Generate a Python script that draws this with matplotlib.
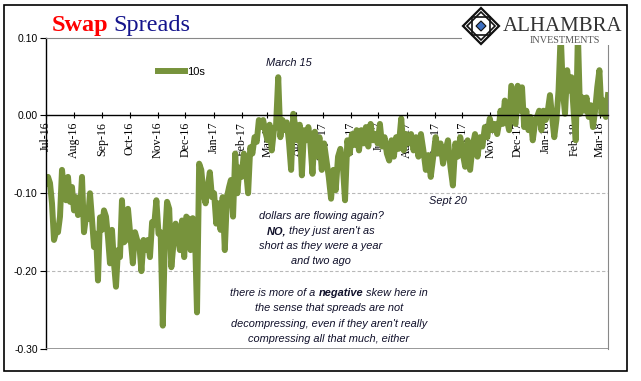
import numpy as np
import pandas as pd
import matplotlib
matplotlib.use('Agg')
import matplotlib.pyplot as plt
import matplotlib.dates as mdates
from matplotlib.patches import Rectangle, Polygon
from matplotlib.ticker import FormatStrFormatter

# --- data: 10y swap spread in 6 stretches ---
seg_dates = [
    ('2016-07-01', '2016-09-29'),
    ('2016-10-02', '2017-01-18'),
    ('2017-01-20', '2017-04-15'),
    ('2017-04-17', '2017-07-23'),
    ('2017-07-26', '2017-11-11'),
    ('2017-11-12', '2018-03-10'),
]
seg_a = [-0.087, -0.079, -0.087, -0.113, -0.160, -0.150, -0.150, -0.130, -0.070, -0.096,
         -0.109, -0.079, -0.111, -0.092, -0.122, -0.105, -0.128, -0.125, -0.079, -0.150,
         -0.130, -0.133, -0.100, -0.133, -0.169, -0.152, -0.212, -0.131, -0.147, -0.122,
         -0.130, -0.156, -0.190, -0.147, -0.190, -0.220, -0.173, -0.182, -0.109, -0.163,
         -0.160, -0.120]
seg_b = [-0.160, -0.190, -0.150, -0.160, -0.165, -0.200, -0.160, -0.173, -0.160, -0.182,
         -0.137, -0.140, -0.109, -0.152, -0.150, -0.270, -0.160, -0.111, -0.120, -0.195,
         -0.165, -0.139, -0.152, -0.173, -0.135, -0.182, -0.130, -0.133, -0.173, -0.132,
         -0.147, -0.253, -0.062, -0.070, -0.100, -0.113, -0.092, -0.073, -0.105, -0.100,
         -0.139, -0.113, -0.147, -0.105, -0.173, -0.105, -0.092]
seg_c = [-0.083, -0.130, -0.049, -0.100, -0.067, -0.079, -0.049, -0.070, -0.100, -0.041,
         -0.049, -0.028, -0.034, -0.006, -0.015, -0.006, -0.021, -0.032, -0.012, -0.045,
         -0.019, -0.013, 0.049, -0.028, -0.006, -0.019, -0.009, -0.034, -0.070, 0.002,
         -0.015, -0.032, -0.012, -0.077, -0.019, -0.032, -0.015]
seg_d = [-0.032, -0.075, -0.021, -0.053, -0.028, -0.070, -0.036, -0.058, -0.079, -0.107,
         -0.070, -0.096, -0.053, -0.043, -0.062, -0.109, -0.032, -0.049, -0.024, -0.038,
         -0.019, -0.045, -0.019, -0.036, -0.015, -0.040, -0.011, -0.032, -0.024, -0.036,
         -0.011, -0.040, -0.028, -0.049, -0.058, -0.032, -0.053, -0.028, -0.043]
seg_e = [-0.004, -0.045, -0.024, -0.036, -0.024, -0.045, -0.028, -0.053, -0.024, -0.045,
         -0.070, -0.051, -0.079, -0.053, -0.028, -0.049, -0.036, -0.062, -0.045, -0.032,
         -0.066, -0.090, -0.036, -0.053, -0.028, -0.049, -0.066, -0.032, -0.070, -0.040,
         -0.024, -0.053, -0.028, -0.040, -0.015, -0.028, -0.004, -0.019, -0.011, -0.024,
         -0.006]
seg_f = [0.006, -0.011, 0.019, -0.006, -0.019, 0.038, 0.013, -0.011, 0.038, 0.006,
         0.036, -0.015, 0.006, -0.019, -0.002, -0.032, -0.011, -0.002, 0.006, -0.019,
         0.006, -0.006, 0.006, 0.026, -0.002, -0.028, -0.006, 0.032, 0.105, 0.032,
         0.002, 0.058, 0.032, 0.049, 0.006, -0.032, 0.105, 0.002, 0.023, 0.006,
         0.023, -0.002, 0.013, -0.015, 0.006, 0.036, 0.058, 0.002, 0.019, -0.002,
         0.026]
segments = [seg_a, seg_b, seg_c, seg_d, seg_e, seg_f]

series_label = '10s'
y_ticks = [-0.30, -0.20, -0.10, 0.00, 0.10]

dates = []
values = []
for (d0, d1), seg in zip(seg_dates, segments):
    dates.extend(pd.date_range(d0, d1, periods=len(seg)))
    values.extend(seg)
s = pd.Series(values, index=pd.DatetimeIndex(dates))

# --- figure, laid out in pixels ---
W, H = 641, 381
def fx(x):
    return x / W
def fy(y):
    return 1 - y / H

green = '#77933C'
txt_col = '#10102a'

fig = plt.figure(figsize=(W / 100, H / 100), dpi=100)
ax = fig.add_axes([fx(46), fy(349), fx(608) - fx(46), fy(37.5) - fy(349)])

ax.plot(s.index, s.values, color=green, lw=4.3, label=series_label, zorder=2)

ax.set_xlim(pd.Timestamp('2016-07-01'), pd.Timestamp('2018-03-10'))
ax.set_ylim(-0.30, 0.10)
ax.set_yticks(y_ticks)
ax.yaxis.set_major_formatter(FormatStrFormatter('%.2f'))
for yv in [-0.10, -0.20]:
    ax.axhline(yv, color='#b8b8b8', lw=0.8, ls=(0, (3, 2)), zorder=1)
ax.axhline(-0.30, color='#888888', lw=1.2, zorder=3)

ax.spines['bottom'].set_position(('data', 0))
ax.spines['bottom'].set_color('black')
ax.spines['bottom'].set_linewidth(1.0)
ax.spines['left'].set_color('black')
ax.spines['left'].set_linewidth(1.0)
ax.spines['top'].set_color('#888888')
ax.spines['right'].set_color('#888888')

ax.xaxis.set_major_locator(mdates.MonthLocator())
ax.xaxis.set_major_formatter(mdates.DateFormatter('%b-%y'))
ax.tick_params(axis='x', direction='inout', length=5, width=0.8, pad=2)
for lab in ax.get_xticklabels():
    lab.set_rotation(90)
    lab.set_fontfamily('Liberation Serif')
    lab.set_fontsize(8.6)
    lab.set_va('top')
    lab.set_ha('center')
ax.tick_params(axis='y', direction='out', length=4, width=0.8, pad=2)
for lab in ax.get_yticklabels():
    lab.set_fontfamily('Liberation Sans')
    lab.set_fontsize(7.5)

leg = ax.legend(loc='center left', bbox_to_anchor=(fx(158), fy(72)),
                bbox_transform=fig.transFigure, frameon=False, borderpad=0,
                borderaxespad=0, handlelength=2.4, handletextpad=0.2,
                prop={'family': 'Liberation Sans', 'size': 8})

renderer = fig.canvas.get_renderer()

# title
t1 = fig.text(fx(52), fy(31), 'Swap', color='#ff0000', fontsize=17.5,
              family='Liberation Serif', weight='bold', va='baseline')
w1 = t1.get_window_extent(renderer).width
fig.text(fx(52 + w1 + 5), fy(31), 'Spreads', color='#14148c', fontsize=17.5,
         family='Liberation Serif', va='baseline')

# logo area (white box hides the chart underneath, as in the source)
fig.add_artist(Rectangle((fx(462), fy(45)), fx(627) - fx(462), fy(6) - fy(45),
                         transform=fig.transFigure, facecolor='white',
                         edgecolor='none', zorder=5))
cx, cy, r = 481, 26, 18
def diamond(rr, **kw):
    pts = [(fx(cx), fy(cy - rr)), (fx(cx + rr), fy(cy)),
           (fx(cx), fy(cy + rr)), (fx(cx - rr), fy(cy))]
    return Polygon(pts, closed=True, transform=fig.transFigure, zorder=6, **kw)
fig.add_artist(diamond(r, facecolor='none', edgecolor='#111111', lw=1.6))
fig.add_artist(diamond(r - 4, facecolor='none', edgecolor='#111111', lw=1.2))
sq = 9
fig.add_artist(Polygon([(fx(cx - sq), fy(cy - sq)), (fx(cx + sq), fy(cy - sq)),
                        (fx(cx + sq), fy(cy + sq)), (fx(cx - sq), fy(cy + sq))],
                       closed=True, transform=fig.transFigure, zorder=6,
                       facecolor='none', edgecolor='#111111', lw=1.2))
fig.add_artist(diamond(5, facecolor='#3d6fc0', edgecolor='#111111', lw=0.8))
fig.text(fx(503), fy(31), 'ALHAMBRA', color='#333333', fontsize=15,
         family='Liberation Serif', va='baseline', zorder=6)
fig.text(fx(565), fy(43), 'INVESTMENTS', color='#555555', fontsize=7.3,
         family='Liberation Serif', va='baseline', ha='center', zorder=6)

# annotations
ann = dict(family='Liberation Sans', style='italic', fontsize=7.9, color=txt_col)
fig.text(fx(289), fy(66), 'March 15', ha='center', va='baseline', **ann)
fig.text(fx(448), fy(204), 'Sept 20', ha='center', va='baseline', **ann)

def rich_line(pieces, xc, yb):
    objs = [fig.text(0, fy(yb), t, weight=w, va='baseline', ha='left', **ann)
            for t, w in pieces]
    widths = [o.get_window_extent(renderer).width for o in objs]
    x = xc - sum(widths) / 2
    for o, wd in zip(objs, widths):
        o.set_x(fx(x))
        x += wd

block1 = [
    [('dollars are flowing again?', 'normal')],
    [('NO,', 'bold'), (" they just aren't as", 'normal')],
    [('short as they were a year', 'normal')],
    [('and two ago', 'normal')],
]
block2 = [
    [('there is more of a ', 'normal'), ('negative', 'bold'), (' skew here in', 'normal')],
    [('the sense that spreads are not', 'normal')],
    [("decompressing, even if they aren't really", 'normal')],
    [('compressing all that much, either', 'normal')],
]
for i, line in enumerate(block1):
    rich_line(line, 321, 219 + 15 * i)
for i, line in enumerate(block2):
    rich_line(line, 329, 296 + 15.3 * i)

# outer frame
fig.add_artist(Rectangle((fx(4), fy(371)), fx(627) - fx(4), fy(5) - fy(371),
                         transform=fig.transFigure, facecolor='none',
                         edgecolor='black', lw=1.2, zorder=7))

fig.savefig('out.png', dpi=100)
